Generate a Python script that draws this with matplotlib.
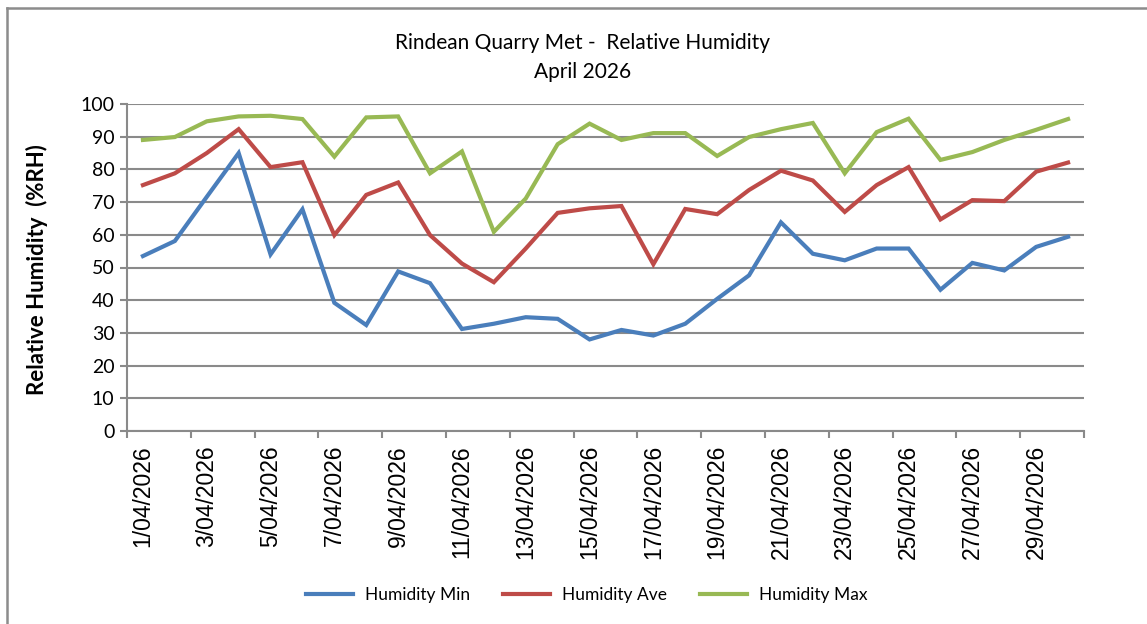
import matplotlib
matplotlib.use("Agg")
import matplotlib.pyplot as plt
from matplotlib.lines import Line2D

dates = [f"{d}/04/2026" for d in range(1, 31)]

hum_min = [53.5, 58.1, 71.6, 85.0, 54.0, 67.8, 39.2, 32.4, 48.8, 45.2,
           31.2, 32.8, 34.8, 34.3, 28.0, 30.9, 29.2, 32.8, 40.4, 47.6,
           63.8, 54.2, 52.2, 55.8, 55.8, 43.2, 51.4, 49.1, 56.3, 59.4]
hum_ave = [75.2, 78.8, 85.0, 92.3, 80.7, 82.2, 59.9, 72.2, 76.0, 59.9,
           51.2, 45.5, 55.8, 66.7, 68.1, 68.8, 51.0, 67.9, 66.3, 73.7,
           79.6, 76.6, 67.0, 75.2, 80.7, 64.7, 70.6, 70.3, 79.3, 82.1]
hum_max = [89.0, 89.9, 94.7, 96.2, 96.4, 95.4, 83.9, 95.9, 96.2, 78.8,
           85.5, 60.9, 71.1, 87.7, 94.0, 89.0, 91.1, 91.1, 84.1, 89.9,
           92.3, 94.2, 78.8, 91.4, 95.5, 82.9, 85.3, 89.0, 92.1, 95.4]

series = [("Humidity Min", hum_min, "#4A7EBB"),
          ("Humidity Ave", hum_ave, "#BE4B48"),
          ("Humidity Max", hum_max, "#98B954")]

W, H = 1147, 624
fig = plt.figure(figsize=(W / 100, H / 100), dpi=100)
ax = fig.add_axes([127 / W, 1 - 431 / H, (1084 - 127) / W, (431 - 104) / H])

# outer chart frame (left and top edges visible)
frame_col = "#8c8c8c"
fig.lines.append(Line2D([7 / W, 7 / W], [0, 1 - 8 / H], transform=fig.transFigure,
                        color=frame_col, linewidth=1.8))
fig.lines.append(Line2D([7 / W, 1], [1 - 8 / H, 1 - 8 / H], transform=fig.transFigure,
                        color=frame_col, linewidth=1.8))

x = list(range(len(dates)))
handles = []
for name, vals, col in series:
    h, = ax.plot(x, vals, color=col, linewidth=3.0, label=name,
                 solid_joinstyle="miter", zorder=3)
    handles.append(h)

ax.set_xlim(-0.5, len(dates) - 0.5)
ax.set_ylim(0, 100)
ax.set_yticks(range(0, 101, 10))
ax.yaxis.grid(True, color="#8a8a8a", linewidth=1.5)
ax.set_axisbelow(True)

for s in ["top", "right"]:
    ax.spines[s].set_visible(False)
for s in ["left", "bottom"]:
    ax.spines[s].set_color("#8a8a8a")
    ax.spines[s].set_linewidth(1.5)

ax.set_xticks(x[::2])
ax.set_xticklabels(dates[::2], rotation=90, fontsize=16.5,
                   family="Liberation Sans")
ax.set_xticks([i - 0.5 for i in range(0, len(dates) + 1, 2)], minor=True)
ax.tick_params(axis="x", which="major", length=0, pad=10)
ax.tick_params(axis="x", which="minor", length=5, color="#8a8a8a", width=1.5)
ax.tick_params(axis="y", length=5, color="#8a8a8a", width=1.5,
               labelsize=14, pad=4)
for lab in ax.get_yticklabels():
    lab.set_family("Lato")

fig.text(37 / W, 1 - 270 / H, "Relative Humidity  (%RH)", rotation=90,
         ha="center", va="center", fontsize=16, fontweight="bold", family="Lato")

fig.text(583 / W, 1 - 43 / H, "Rindean Quarry Met -  Relative Humidity",
         ha="center", va="center", fontsize=15, family="Lato")
fig.text(583 / W, 1 - 72 / H, "April 2026", ha="center", va="center",
         fontsize=15, family="Lato")

fig.legend(handles=handles, loc="center", bbox_to_anchor=(587 / W, 1 - 595 / H),
           ncol=3, frameon=False, handlelength=2.7, handletextpad=0.7,
           columnspacing=1.9, prop={"family": "Lato", "size": 12.5})

fig.savefig("out.png", dpi=100)
